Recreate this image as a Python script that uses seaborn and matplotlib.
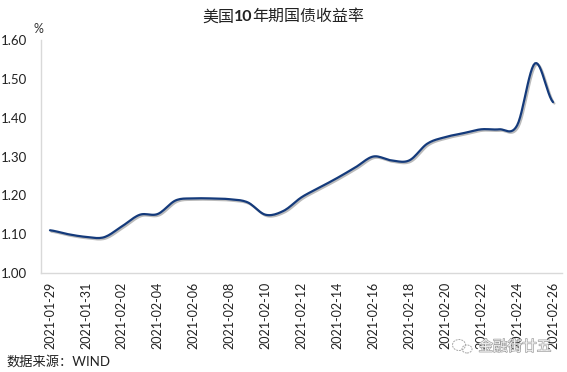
import numpy as np
import pandas as pd
import matplotlib
matplotlib.use("Agg")
import matplotlib.pyplot as plt
import matplotlib.patheffects as pe
from matplotlib.patches import Ellipse
import seaborn as sns

dates = pd.date_range("2021-01-29", "2021-02-26", freq="D")
yields = [1.11, 1.10, 1.093, 1.092, 1.12, 1.15, 1.152, 1.187, 1.192, 1.192, 1.19, 1.182, 1.15, 1.16,
          1.195, 1.22, 1.245, 1.272, 1.30, 1.29, 1.29, 1.333, 1.35, 1.36, 1.37, 1.37, 1.38, 1.54, 1.44]
title_parts = ["美国", "10", "年期国债收益率"]
source = "数据来源：WIND"
watermark = "金融街廿五"
yticks = [1.0, 1.1, 1.2, 1.3, 1.4, 1.5, 1.6]

def smooth(y, n=12):
    """Excel-style smoothed line: Catmull-Rom rendering through the daily values."""
    p = np.r_[y[0], y, y[-1]]
    xs, ys = [], []
    for i in range(1, len(p) - 2):
        t = np.linspace(0, 1, n, endpoint=False)
        ys.append(0.5 * (2 * p[i] + (p[i + 1] - p[i - 1]) * t
                         + (2 * p[i - 1] - 5 * p[i] + 4 * p[i + 1] - p[i + 2]) * t ** 2
                         + (3 * p[i] - p[i - 1] - 3 * p[i + 1] + p[i + 2]) * t ** 3))
        xs.append(i - 1 + t)
    return np.r_[np.concatenate(xs), len(y) - 1], np.r_[np.concatenate(ys), y[-1]]

sns.set_theme(style="white")
plt.rcParams["font.family"] = ["Lato", "Noto Sans CJK SC", "DejaVu Sans"]

fig = plt.figure(figsize=(5.67, 3.72), dpi=100)
ax = fig.add_axes([41 / 567, 1 - 273 / 372, (562 - 41) / 567, (273 - 40) / 372])

x, y = smooth(np.array(yields))
sns.lineplot(x=x, y=y, ax=ax, color="#143a7b", lw=1.6, errorbar=None,
             path_effects=[pe.SimpleLineShadow(offset=(1.0, -1.0), shadow_color="#555555", alpha=0.4),
                           pe.Normal()])

ax.set_xlim(-0.5, len(dates) - 0.5)
ax.set_ylim(1.0, 1.6)
ax.set_xticks(range(0, len(dates), 2))
ax.set_xticklabels([d.strftime("%Y-%m-%d") for d in dates[::2]], rotation=90, fontsize=9, color="#222222")
ax.set_yticks(yticks)
ax.set_yticklabels([f"{v:.2f}" for v in yticks], fontsize=9.5, color="#222222")
ax.tick_params(axis="x", length=0, pad=6)
ax.tick_params(axis="y", length=0, pad=10)
ax.set_xlabel("")
ax.set_ylabel("")
ax.grid(False)
for s in ["top", "right"]:
    ax.spines[s].set_visible(False)
for s in ["left", "bottom"]:
    ax.spines[s].set_color("#d9d9d9")
    ax.spines[s].set_linewidth(1.0)

# title: bold digits between the two Chinese runs
t1 = fig.text(202 / 567, 1 - 17 / 372, title_parts[0], ha="left", va="center", fontsize=11.5, color="#222222")
t2 = ax.annotate(title_parts[1], xy=(1, 0.5), xycoords=t1, xytext=(0, 0), textcoords="offset points",
                 ha="left", va="center", fontsize=11.5, fontweight="bold", color="#222222", annotation_clip=False)
ax.annotate(title_parts[2], xy=(1, 0.5), xycoords=t2, xytext=(0, 0), textcoords="offset points",
            ha="left", va="center", fontsize=11.5, color="#222222", annotation_clip=False)

fig.text(38 / 567, 1 - 29 / 372, "%", ha="center", va="center", fontsize=9, color="#333333")
fig.text(6 / 567, 1 - 361 / 372, source, ha="left", va="center", fontsize=9.5, color="#222222")

# faint watermark
fig.text(515 / 567, 1 - 347 / 372, watermark, ha="center", va="center", fontsize=10.5, color="#f4f4f4",
         path_effects=[pe.withStroke(linewidth=0.9, foreground="#9a9a9a")])
for cx, cy, w, h in [(459, 345, 13, 11), (467, 349, 10, 8)]:
    fig.add_artist(Ellipse((cx / 567, 1 - cy / 372), w / 567, h / 372, transform=fig.transFigure,
                           facecolor="none", edgecolor="#a8a8a8", linewidth=0.7, linestyle=(0, (2, 1))))

fig.savefig("out.png", dpi=100)
